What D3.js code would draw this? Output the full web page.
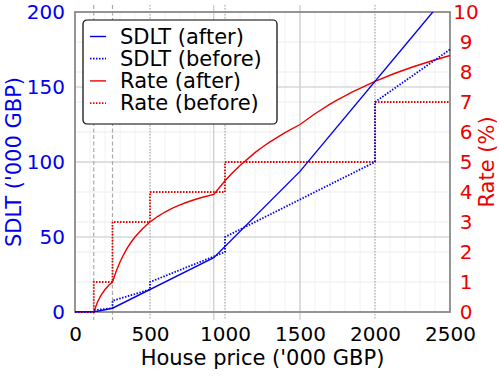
<!DOCTYPE html>
<html>
<head>
<meta charset="utf-8">
<script src="https://cdn.jsdelivr.net/npm/d3@7"></script>
<style>
  body { margin: 0; background: #fff; }
  text { font-family: "DejaVu Sans", sans-serif; }
</style>
</head>
<body>
<svg id="chart" width="500" height="376"></svg>
<script>
// SDLT after the reform ('000 GBP)
const afterPrice = [0, 125, 250, 925, 1500, 2500];
const afterTax = [0, 0, 2.5, 36.25, 93.75, 213.75];

// SDLT before (slab system)
const beforePrice = [0, 125, 125, 250, 250, 500, 500, 1000, 1000, 2000, 2000, 2500];
const beforeTax = [0, 0, 1.25, 2.5, 7.5, 15, 20, 40, 50, 100, 140, 175];
const beforeRate = [0, 0, 1, 1, 3, 3, 4, 4, 5, 5, 7, 7];

// Effective rate after (%)
const ratePrice = [0, 125, 150, 175, 200, 225, 250, 275, 300, 325, 350, 375, 400, 450, 500, 550, 600, 650, 700, 750, 800, 850, 925,
  1000, 1050, 1100, 1200, 1250, 1300, 1400, 1500, 1600, 1700, 1750, 1850, 2000, 2125, 2250, 2375, 2500];
const rateAfter = [0, 0, 0.333, 0.571, 0.75, 0.889, 1.0, 1.364, 1.667, 1.923, 2.143, 2.333, 2.5, 2.778, 3.0, 3.182, 3.333, 3.462, 3.571, 3.667, 3.75, 3.824, 3.919,
  4.375, 4.643, 4.886, 5.3125, 5.5, 5.673, 5.982, 6.25, 6.609, 6.926, 7.071, 7.338, 7.6875, 7.941, 8.167, 8.368, 8.55];

// threshold lines: price and style
const thresholds = [125, 250, 500, 925, 1000, 1500, 2000];
const thresholdStyle = ['dash', 'dash', 'dot', 'solid', 'dot', 'solid', 'dot'];

const xTicks = [0, 500, 1000, 1500, 2000, 2500];
const leftTicks = [0, 50, 100, 150, 200];
const rightTicks = [0, 1, 2, 3, 4, 5, 6, 7, 8, 9, 10];

const legendLabels = ['SDLT (after)', 'SDLT (before)', 'Rate (after)', 'Rate (before)'];

const BLUE = '#0000ee';
const RED = '#ee0000';

const svg = d3.select('#chart');
const margin = { left: 75, right: 50, top: 12, bottom: 64 };
const width = 500 - margin.left - margin.right;
const height = 376 - margin.top - margin.bottom;

const x = d3.scaleLinear().domain([0, 2500]).range([0, width]);
const yL = d3.scaleLinear().domain([0, 200]).range([height, 0]);
const yR = d3.scaleLinear().domain([0, 10]).range([height, 0]);

const g = svg.append('g').attr('transform', `translate(${margin.left},${margin.top})`);

g.append('clipPath').attr('id', 'clip')
  .append('rect').attr('width', width).attr('height', height);

// faint minor grid
g.selectAll('.vminor').data(d3.range(100, 2500, 100)).enter().append('line')
  .attr('x1', d => x(d)).attr('x2', d => x(d)).attr('y1', 0).attr('y2', height)
  .attr('stroke', '#f2f2f2').attr('stroke-width', 1);
g.selectAll('.rgrid').data(rightTicks.slice(1, -1)).enter().append('line')
  .attr('x1', 0).attr('x2', width).attr('y1', d => yR(d)).attr('y2', d => yR(d))
  .attr('stroke', '#ececec').attr('stroke-width', 1);
g.selectAll('.lgrid').data(leftTicks.slice(1, -1)).enter().append('line')
  .attr('x1', 0).attr('x2', width).attr('y1', d => yL(d)).attr('y2', d => yL(d))
  .attr('stroke', '#d8d8d8').attr('stroke-width', 1.5);

// threshold lines
g.selectAll('.thr').data(thresholds).enter().append('line')
  .attr('x1', d => x(d)).attr('x2', d => x(d)).attr('y1', -7).attr('y2', height + 8)
  .attr('stroke', (d, i) => thresholdStyle[i] === 'solid' ? '#c8c8c8' : '#aaa')
  .attr('stroke-width', 1.2)
  .attr('stroke-dasharray', (d, i) => thresholdStyle[i] === 'dash' ? '4,2.5' : thresholdStyle[i] === 'dot' ? '1.5,1.5' : null);

const lineL = d3.line().x(d => x(d[0])).y(d => yL(d[1]));
const lineR = d3.line().x(d => x(d[0])).y(d => yR(d[1]));

// frame
g.append('rect').attr('width', width).attr('height', height)
  .attr('fill', 'none').attr('stroke', '#8a8a8a').attr('stroke-width', 1.8);

const lines = g.append('g');
lines.append('path').datum(beforePrice.map((p, i) => [p, beforeRate[i]]))
  .attr('d', lineR).attr('fill', 'none').attr('stroke', RED)
  .attr('stroke-width', 1.8).attr('stroke-dasharray', '1.5,1.5');
lines.append('path').datum(ratePrice.map((p, i) => [p, rateAfter[i]]))
  .attr('d', lineR).attr('fill', 'none').attr('stroke', RED).attr('stroke-width', 1.4);
lines.append('path').datum(beforePrice.map((p, i) => [p, beforeTax[i]]))
  .attr('d', lineL).attr('fill', 'none').attr('stroke', BLUE)
  .attr('stroke-width', 1.8).attr('stroke-dasharray', '1.5,1.5');
lines.append('path').datum(afterPrice.map((p, i) => [p, afterTax[i]]))
  .attr('d', lineL).attr('fill', 'none').attr('stroke', BLUE).attr('stroke-width', 1.4)
  .attr('clip-path', 'url(#clip)');

// axes tick labels
const xAxis = g.append('g').attr('transform', `translate(0,${height})`)
  .call(d3.axisBottom(x).tickValues(xTicks).tickSize(0).tickPadding(15).tickFormat(d3.format('d')));
xAxis.select('.domain').remove();
xAxis.selectAll('text').attr('font-size', 20).attr('fill', '#000').attr('font-family', 'DejaVu Sans');

const lAxis = g.append('g')
  .call(d3.axisLeft(yL).tickValues(leftTicks).tickSize(0).tickPadding(10));
lAxis.select('.domain').remove();
lAxis.selectAll('text').attr('font-size', 20).attr('fill', BLUE).attr('font-family', 'DejaVu Sans');

const rAxis = g.append('g').attr('transform', `translate(${width},0)`)
  .call(d3.axisRight(yR).tickValues(rightTicks).tickSize(0).tickPadding(16));
rAxis.select('.domain').remove();
rAxis.selectAll('text').attr('font-size', 20).attr('fill', RED)
  .attr('text-anchor', 'middle').attr('font-family', 'DejaVu Sans');

// axis titles
svg.append('text').attr('x', margin.left + width / 2).attr('y', 365)
  .attr('text-anchor', 'middle').attr('font-size', 21).text("House price ('000 GBP)");
svg.append('text').attr('transform', `translate(21,${margin.top + height / 2}) rotate(-90)`)
  .attr('text-anchor', 'middle').attr('font-size', 21).attr('fill', BLUE).text("SDLT ('000 GBP)");
svg.append('text').attr('transform', `translate(494,${margin.top + height / 2}) rotate(-90)`)
  .attr('text-anchor', 'middle').attr('font-size', 21).attr('fill', RED).text('Rate (%)');

// legend
const legend = svg.append('g').attr('transform', 'translate(83,20)');
legend.append('rect').attr('width', 194).attr('height', 104).attr('rx', 4)
  .attr('fill', '#fff').attr('stroke', '#000').attr('stroke-width', 1.2);
const legColors = [BLUE, BLUE, RED, RED];
const legDash = [null, '1.5,1.5', null, '1.5,1.5'];
const rows = legend.selectAll('.row').data(legendLabels).enter().append('g')
  .attr('transform', (d, i) => `translate(0,${16.5 + i * 22.2})`);
rows.append('line').attr('x1', 7).attr('x2', 23).attr('y1', 0).attr('y2', 0)
  .attr('stroke', (d, i) => legColors[i]).attr('stroke-width', (d, i) => legDash[i] ? 1.8 : 1.4)
  .attr('stroke-dasharray', (d, i) => legDash[i]);
rows.append('text').attr('x', 37).attr('dy', '0.35em').attr('font-size', 21).text(d => d);
</script>
</body>
</html>
